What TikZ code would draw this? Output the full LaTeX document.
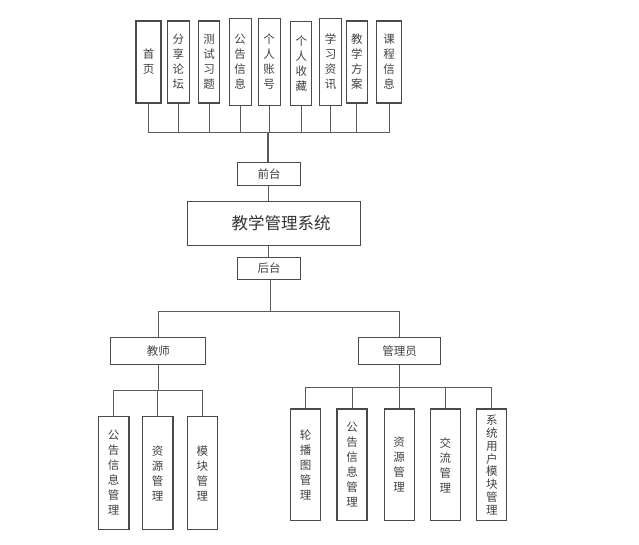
\documentclass[tikz,border=0pt]{standalone}
\usepackage{fontspec}
\newfontfamily\cjk{Noto Sans CJK SC}
\definecolor{boxc}{HTML}{4A4A4A}
\definecolor{linec}{HTML}{5A5A5A}
\definecolor{textc}{HTML}{404040}
\begin{document}
\begin{tikzpicture}[x=1pt,y=-1pt,
  box/.style={draw=boxc, line width=1.3pt, inner sep=0pt, font=\cjk\fontsize{11.5}{15}\selectfont, text=textc, align=center},
  conn/.style={draw=linec, line width=1pt}]
\useasboundingbox (0,0) rectangle (639,544);
% top row
\node[box, minimum width=25pt, minimum height=82pt] (t1) at (148.5,62) {首\\页};
\node[box, minimum width=22pt, minimum height=82pt] (t2) at (178.3,62) {分\\享\\论\\坛};
\node[box, minimum width=21pt, minimum height=82pt] (t3) at (209,62) {测\\试\\习\\题};
\node[box, minimum width=22pt, minimum height=87pt] (t4) at (240.2,61.8) {公\\告\\信\\息};
\node[box, minimum width=22pt, minimum height=87pt] (t5) at (269.2,61.8) {个\\人\\账\\号};
\node[box, minimum width=21pt, minimum height=84pt] (t6) at (301.3,63.2) {个\\人\\收\\藏};
\node[box, minimum width=22pt, minimum height=87pt] (t7) at (330.5,61.8) {学\\习\\资\\讯};
\node[box, minimum width=21pt, minimum height=82pt] (t8) at (356.8,62) {教\\学\\方\\案};
\node[box, minimum width=25pt, minimum height=82pt] (t9) at (389.2,62) {课\\程\\信\\息};
\coordinate (bus) at (268,132.7);
\foreach \n in {t1,t2,t3,t4,t5,t6,t7,t8,t9}{
  \draw[conn] (\n.south) -- (\n.south |- bus);
}
\draw[conn] (t1.south |- bus) -- (t9.south |- bus);
% middle
\node[box, minimum width=63pt, minimum height=23pt] (front) at (269,174.3) {前台};
\node[box, line width=1pt, minimum width=173pt, minimum height=44pt, font=\cjk\fontsize{16.5}{18}\selectfont, text=black!80] (main) at (274,223) {\hspace*{14pt}教学管理系统};
\node[box, minimum width=63pt, minimum height=22pt] (back) at (269,268.3) {后台};
\draw[conn, line width=2.2pt] (bus) -- (bus |- front.north);
\draw[conn] (bus |- front.south) -- (bus |- main.north);
\draw[conn] (bus |- main.south) -- (bus |- back.north);
% roles
\node[box, minimum width=95pt, minimum height=26.6pt] (teacher) at (158.3,351) {教师};
\node[box, minimum width=82pt, minimum height=26.6pt] (admin) at (399.5,351) {管理员};
\coordinate (bbus) at (270,311.7);
\draw[conn] (bbus |- back.south) -- (bbus);
\draw[conn] (teacher.north) |- (bbus) -| (admin.north);
% teacher children
\node[box, minimum width=30.7pt, minimum height=112.6pt] (c1) at (113.7,473) {公\\告\\信\\息\\管\\理};
\node[box, minimum width=30.7pt, minimum height=112.6pt] (c2) at (157.7,473) {资\\源\\管\\理};
\node[box, minimum width=30pt, minimum height=112.6pt] (c3) at (202.3,473) {模\\块\\管\\理};
\coordinate (tbus) at (158.3,390.7);
\draw[conn] (teacher.south) -- (tbus);
\draw[conn] (c1.north) |- (tbus) -| (c3.north);
\draw[conn] (c2.north) -- (c2.north |- tbus);
% admin children
\node[box, minimum width=30pt, minimum height=111.7pt] (a1) at (305.7,464.9) {轮\\播\\图\\管\\理};
\node[box, minimum width=30pt, minimum height=111.7pt] (a2) at (352,464.9) {公\\告\\信\\息\\管\\理};
\node[box, minimum width=30pt, minimum height=111.7pt] (a3) at (399.2,464.9) {资\\源\\管\\理};
\node[box, minimum width=30pt, minimum height=111.7pt] (a4) at (445.3,464.9) {交\\流\\管\\理};
\node[box, minimum width=30pt, minimum height=111.7pt, font=\cjk\fontsize{11.5}{12.8}\selectfont] (a5) at (491.8,464.9) {系\\统\\用\\户\\模\\块\\管\\理};
\coordinate (abus) at (399.5,387.3);
\draw[conn] (admin.south) -- (abus);
\draw[conn] (a1.north) |- (abus) -| (a5.north);
\foreach \n in {a2,a3,a4}{
  \draw[conn] (\n.north) -- (\n.north |- abus);
}
\end{tikzpicture}
\end{document}
